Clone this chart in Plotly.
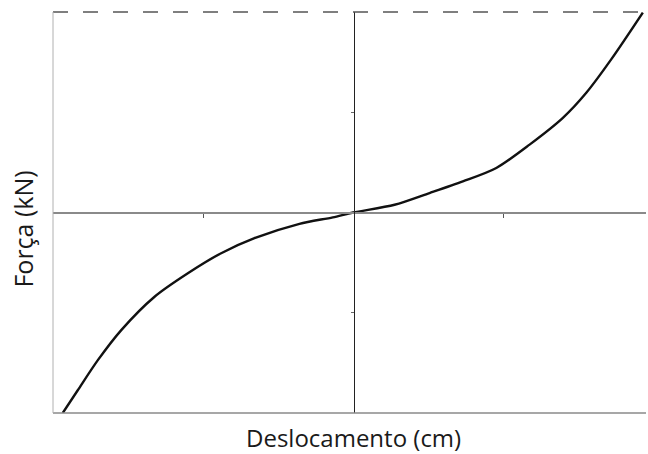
import plotly.graph_objects as go

# Curve (x in axis units, y in axis units)
desloc = [-1.935, -1.835, -1.701, -1.545, -1.323, -1.101, -0.879, -0.657, -0.357, -0.135, 0.0,
          0.277, 0.51, 0.732, 0.955, 1.177, 1.399, 1.555, 1.721, 1.932]
forca = [-2.0, -1.773, -1.473, -1.173, -0.84, -0.606, -0.406, -0.256, -0.113, -0.048, 0.0,
         0.077, 0.194, 0.31, 0.444, 0.677, 0.944, 1.194, 1.527, 1.994]

x_ticks = [-1, 1]
y_ticks = [-1, 1]
x_title = "Deslocamento (cm)"
y_title = "Força (kN)"

fig = go.Figure()
fig.add_trace(go.Scatter(x=desloc, y=forca, mode="lines",
                         line=dict(color="#111111", width=2.4, shape="spline", smoothing=0.8),
                         showlegend=False, hoverinfo="skip", cliponaxis=False))

fig.update_layout(
    width=648, height=454,
    margin=dict(l=53, r=2, t=12, b=41),
    paper_bgcolor="white", plot_bgcolor="white",
    font=dict(family="Open Sans", color="#1a1a1a"),
    xaxis=dict(range=[-2, 1.953], showgrid=False, zeroline=False,
               anchor="free", position=0.5,
               showline=True, linecolor="#8a8a8a", linewidth=2,
               tickvals=x_ticks, ticks="outside", ticklen=4, tickcolor="#555555", tickwidth=1,
               showticklabels=False),
    yaxis=dict(range=[-2, 2], showgrid=False, zeroline=False,
               anchor="free", position=300.5 / 593,
               showline=True, linecolor="#222222", linewidth=1,
               tickvals=y_ticks, ticks="outside", ticklen=3, tickcolor="#666666", tickwidth=1,
               showticklabels=False),
    shapes=[
        dict(type="line", xref="paper", yref="paper", x0=0, x1=1, y0=1, y1=1,
             line=dict(color="#555555", width=1.5, dash="longdash")),
        dict(type="line", xref="paper", yref="paper", x0=0, x1=1, y0=0, y1=0,
             line=dict(color="#8a8a8a", width=1.5)),
        dict(type="line", xref="paper", yref="paper", x0=0, x1=0, y0=0, y1=1,
             line=dict(color="#b0b0b0", width=1)),
    ],
    annotations=[
        dict(text=x_title, xref="x", yref="paper", x=0, y=-0.014, yanchor="top",
             showarrow=False, font=dict(size=24)),
        dict(text=y_title, xref="paper", yref="paper", x=-0.0506, y=0.46, xanchor="center",
             textangle=-90, showarrow=False, font=dict(size=25)),
    ],
)

fig.write_html("out.html", config={"displayModeBar": False},
               post_script="document.body.style.margin='0';document.body.style.overflow='hidden';")
